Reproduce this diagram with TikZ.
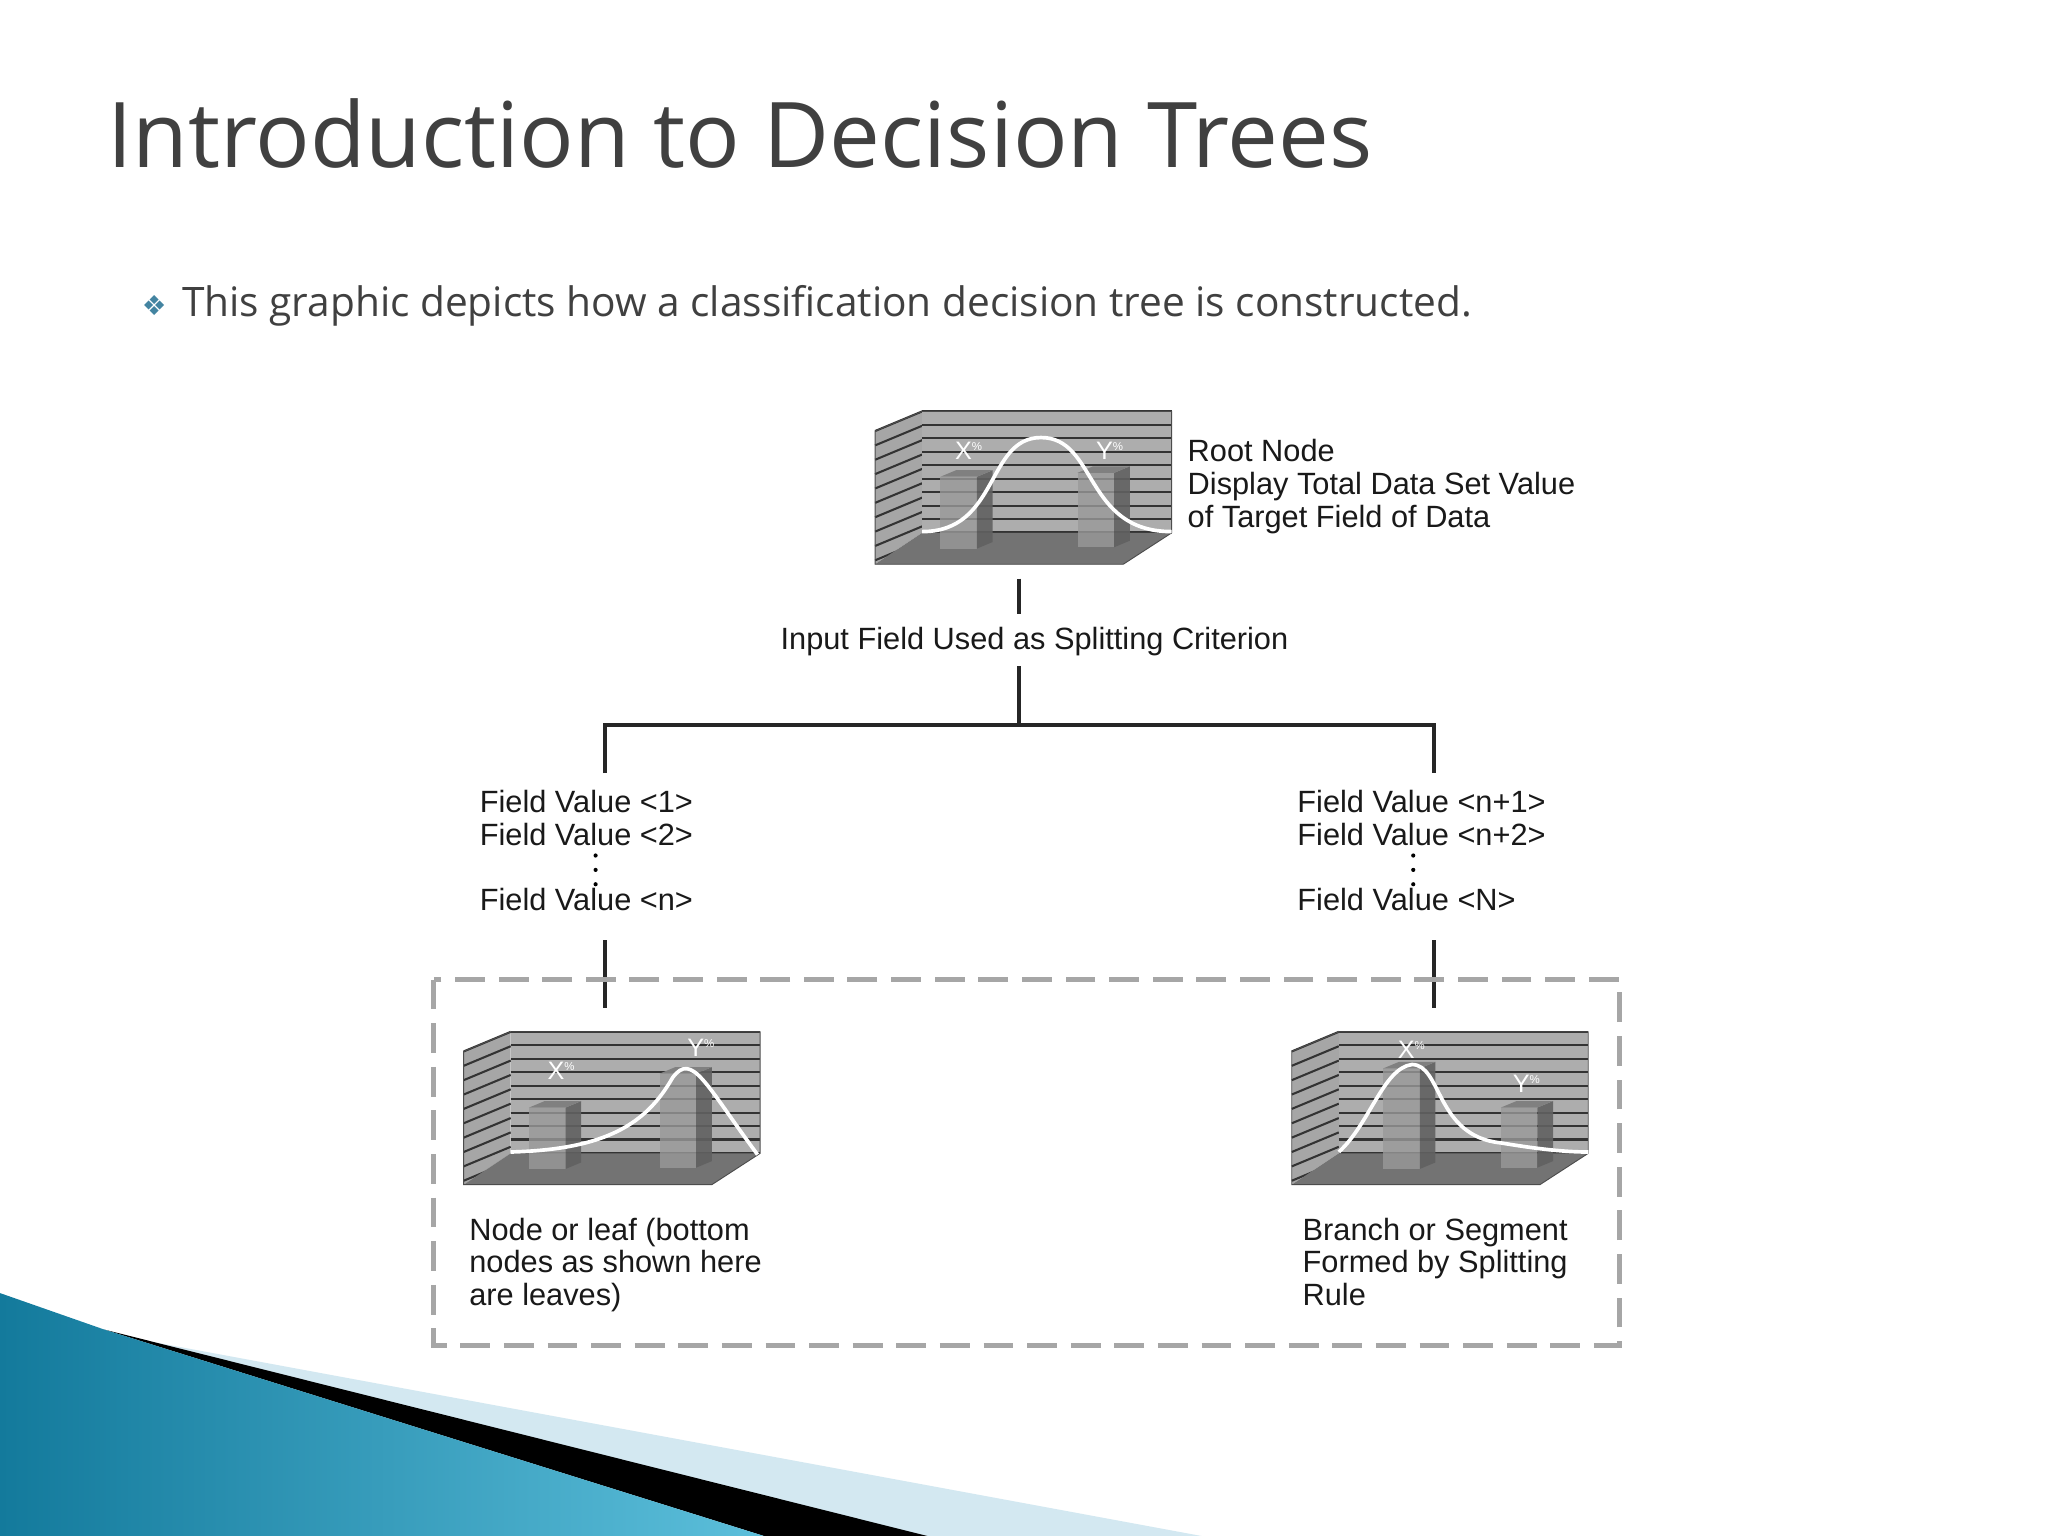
\documentclass[tikz,border=0pt]{standalone}
\usepackage{fontspec}
\setmainfont{Open Sans}
\newfontfamily\helv{Liberation Sans}
\newfontfamily\djv{DejaVu Sans}
\definecolor{teald}{HTML}{137A9C}
\definecolor{teall}{HTML}{5CBFDB}
\definecolor{palebl}{HTML}{D3E8F1}
\begin{document}
\begin{tikzpicture}[x=0.02cm,y=-0.02cm,
  lbl/.style={font=\helv\fontsize{13.4}{14.3}\selectfont, text=black!90, inner sep=0pt, anchor=north west, align=left},
  conn/.style={line width=1.6pt, black!85},
  wallline/.style={line width=0.9pt, black!80},
  bartext/.style={font=\helv\fontsize{11}{11}\selectfont, text=white, inner sep=0pt}]
\useasboundingbox (0,0) rectangle (1568,1176);
\fill[white] (0,0) rectangle (1568,1176);
% swoosh
\fill[palebl] (120,1028) -- (920,1176) -- (690,1176) -- cycle;
\fill[black] (80,1018) -- (710,1176) -- (585,1176) -- cycle;
\shade[left color=teald, right color=teall] (0,990) -- (80,1018) -- (585,1176) -- (0,1176) -- cycle;
% title
\node[anchor=base west, inner sep=0pt, text=black!75, font=\fontsize{39.5}{42}\selectfont] (title) at (82,128) {Introduction to Decision Trees};
\node[text=cyan!60!black, font=\djv\fontsize{12}{12}\selectfont, inner sep=0pt] (bul) at (118,234) {\symbol{"2756}};
\node[anchor=base west, inner sep=0pt, text=black!75, font=\fontsize{17.7}{20}\selectfont] (sub) at (139,242) {This graphic depicts how a classification decision tree is constructed.};
% chart macros
\newcommand\mybar[3]{% x, top, bottom
  \fill[black!40,opacity=0.8] (#1,#2) rectangle (#1+28,#3);
  \fill[black!62,opacity=0.9] (#1+28,#2) -- (#1+40,#2-5) -- (#1+40,#3-5) -- (#1+28,#3) -- cycle;
  \fill[black!50] (#1,#2) -- (#1+12,#2-5) -- (#1+40,#2-5) -- (#1+28,#2) -- cycle;}
\newcommand\chartbase{%
  \fill[black!35] (0,15) -- (36,0) -- (36,93) -- (0,117) -- cycle;
  \foreach \i in {0,...,9} \draw[wallline] (0,15+\i*11) -- (36,\i*11);
  \fill[black!32] (36,0) rectangle (227,93);
  \foreach \i in {0,...,9} \draw[wallline] (36,\i*10.3) -- (227,\i*10.3);
  \fill[black!55] (36,93) -- (227,93) -- (190,117) -- (0,117) -- cycle;
  \draw[black!70] (0,15) -- (36,0) -- (227,0) -- (227,93) -- (190,117) -- (0,117) -- cycle;}
% root chart
\begin{scope}[shift={(670,315)}]
  \chartbase
  \mybar{50}{50}{105}
  \mybar{155}{47}{104}
  \draw[white, line width=1.6pt] (36,92) .. controls (95,92) and (85,20) .. (127,20) .. controls (170,20) and (160,92) .. (227,92);
  \node[bartext] at (72,30) {X\textsuperscript{\tiny\%}};
  \node[bartext] at (180,30) {Y\textsuperscript{\tiny\%}};
\end{scope}
\coordinate (rootb) at (780,443);
% left leaf chart
\begin{scope}[shift={(355,790)}]
  \chartbase
  \mybar{50}{58}{105}
  \mybar{150}{32}{104}
  \draw[white, line width=1.6pt] (36,92) .. controls (110,90) and (140,70) .. (160,35) .. controls (175,15) and (185,40) .. (225,94);
  \node[bartext] at (75,30) {X\textsuperscript{\tiny\%}};
  \node[bartext] at (182,12) {Y\textsuperscript{\tiny\%}};
\end{scope}
% right leaf chart
\begin{scope}[shift={(989,790)}]
  \chartbase
  \mybar{70}{28}{105}
  \mybar{160}{58}{104}
  \draw[white, line width=1.6pt] (36,92) .. controls (60,70) and (70,28) .. (92,25) .. controls (115,25) and (110,80) .. (160,85) .. controls (190,90) and (210,92) .. (227,92);
  \node[bartext] at (92,14) {X\textsuperscript{\tiny\%}};
  \node[bartext] at (180,40) {Y\textsuperscript{\tiny\%}};
\end{scope}
% texts
\node[lbl] (roottxt) at (909,336) {Root Node\\Display Total Data Set Value\\of Target Field of Data};
\node[lbl, anchor=center] (crit) at (792,491) {Input Field Used as Splitting Criterion};
\node[lbl] (lv1) at (367,605) {Field Value {<}1{>}\\Field Value {<}2{>}};
\node[lbl] (lvn) at (367,680) {Field Value {<}n{>}};
\node[lbl] (rv1) at (993,605) {Field Value {<}n+1{>}\\Field Value {<}n+2{>}};
\node[lbl] (rvn) at (993,680) {Field Value {<}N{>}};
\foreach \y in {655,666,677} { \fill (456,\y) circle (1.6); \fill (1082,\y) circle (1.6); }
\node[lbl] (ltxt) at (359,932) {Node or leaf (bottom\\nodes as shown here\\are leaves)};
\node[lbl] (rtxt) at (997,932) {Branch or Segment\\Formed by Splitting\\Rule};
% connectors
\coordinate (c1) at (780,470);
\coordinate (c2) at (780,510);
\coordinate (hj) at (780,555);
\coordinate (hl) at (463,555);
\coordinate (hr) at (1098,555);
\coordinate (ld) at (463,592);
\coordinate (rd) at (1098,592);
\coordinate (l2a) at (463,720);
\coordinate (l2b) at (463,772);
\coordinate (r2a) at (1098,720);
\coordinate (r2b) at (1098,772);
\draw[conn] (rootb) -- (c1);
\draw[conn] (c2) -- (hj);
\draw[conn] (ld) -- (hl) -- (hr) -- (rd);
\draw[conn] (l2a) -- (l2b);
\draw[conn] (r2a) -- (r2b);
\draw[black!35, line width=2.2pt, dash pattern=on 13pt off 6pt] (332,750) rectangle (1240,1030);
\end{tikzpicture}
\end{document}
